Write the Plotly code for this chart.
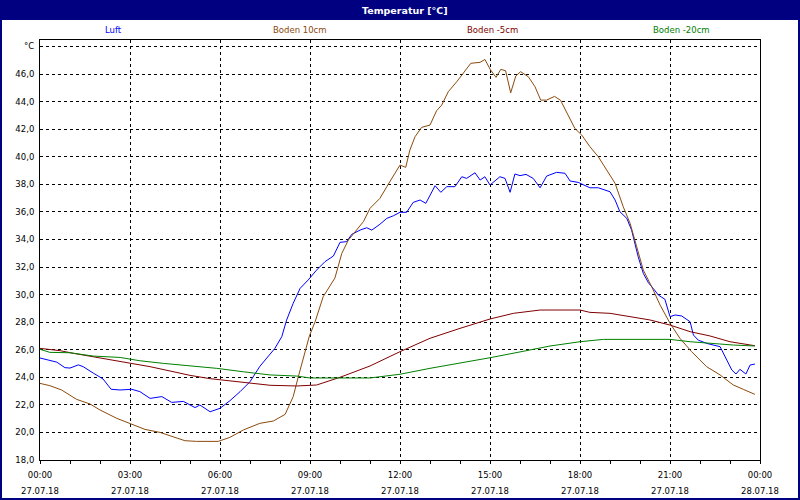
import plotly.graph_objects as go

# Temperature readings on 27.07.18, time in hours after midnight
hours_luft = [0.0, 0.33, 0.56, 0.83, 1.0, 1.28, 1.44, 1.78, 2.1, 2.37, 2.67, 3.06, 3.33, 3.67, 4.06, 4.39,
              4.78, 5.17, 5.33, 5.67, 6.0, 6.33, 6.67, 7.0, 7.33, 7.83, 8.06, 8.22, 8.44, 8.67, 8.94, 9.22,
              9.5, 9.78, 10.0, 10.22, 10.39, 10.67, 10.89, 11.06, 11.33, 11.56, 11.78, 12.0, 12.22, 12.44,
              12.67, 12.86, 13.17, 13.36, 13.56, 13.83, 14.06, 14.22, 14.5, 14.67, 14.83, 15.0, 15.33, 15.5,
              15.67, 15.83, 16.0, 16.2, 16.44, 16.67, 16.89, 17.22, 17.5, 17.67, 17.94, 18.33, 18.61, 19.0,
              19.17, 19.33, 19.56, 19.72, 19.83, 19.94, 20.11, 20.28, 20.44, 20.61, 20.83, 21.0, 21.17,
              21.39, 21.67, 21.78, 21.94, 22.22, 22.67, 22.89, 23.06, 23.2, 23.33, 23.53, 23.67, 23.83]
luft = [25.4, 25.2, 25.1, 24.7, 24.67, 24.9, 24.77, 24.3, 23.88, 23.13, 23.08, 23.13, 22.96, 22.47, 22.6, 22.18,
        22.25, 21.8, 21.99, 21.5, 21.75, 22.3, 22.96, 23.68, 24.8, 26.1, 26.95, 28.15, 29.37, 30.45, 31.06, 31.78,
        32.39, 32.8, 33.79, 33.84, 34.37, 34.68, 34.85, 34.68, 35.1, 35.53, 35.72, 35.97, 35.97, 36.69,
        36.86, 36.62, 37.9, 37.42, 37.83, 37.83, 38.55, 38.43, 38.84, 38.31, 38.55, 37.95, 38.55, 38.43,
        37.42, 38.75, 38.63, 38.72, 38.43, 37.75, 38.6, 38.87, 38.8, 38.24, 38.14, 37.75, 37.75, 37.46,
        36.86, 36.01, 35.53, 34.68, 33.71, 32.74, 31.54, 30.86, 30.45, 29.97, 29.66, 28.4, 28.52,
        28.45, 28.03, 27.07, 26.7, 26.46, 26.22, 25.25, 24.53, 24.24, 24.58, 24.24, 24.89, 24.96]

hours_b10 = [0.0, 0.33, 0.72, 1.22, 1.67, 2.0, 2.56, 3.0, 3.5, 4.0, 4.33, 4.83, 5.22, 5.94, 6.33, 6.78, 7.33,
             7.78, 8.17, 8.44, 8.61, 8.78, 8.98, 9.17, 9.44, 9.83, 10.06, 10.28, 10.56, 10.78, 11.0, 11.33,
             11.56, 11.83, 12.0, 12.19, 12.33, 12.5, 12.72, 13.0, 13.22, 13.39, 13.61, 13.89, 14.11, 14.36,
             14.67, 14.83, 15.02, 15.2, 15.36, 15.52, 15.69, 15.86, 16.02, 16.28, 16.5, 16.69, 16.89, 17.15,
             17.35, 17.61, 17.83, 18.06, 18.33, 18.61, 18.89, 19.17, 19.44, 19.67, 19.89, 20.11, 20.39,
             20.67, 21.0, 21.33, 21.72, 22.22, 22.67, 23.11, 23.44, 23.83]
boden_10 = [23.56, 23.39, 23.08, 22.4, 22.06, 21.63, 21.02, 20.66, 20.22, 20.0, 19.76, 19.4, 19.35, 19.35, 19.64,
            20.18, 20.66, 20.83, 21.31, 22.6, 24.04, 25.49, 27.0, 28.03, 29.85, 31.2, 32.99, 33.96, 34.68,
            35.29, 36.26, 36.98, 37.83, 38.8, 39.4, 39.23, 40.49, 41.45, 42.13, 42.3, 43.34, 43.75, 44.72,
            45.44, 46.05, 46.78, 46.85, 47.06, 46.29, 45.76, 46.34, 46.24, 44.64, 45.86, 46.17, 45.8, 45.08,
            44.11, 44.11, 44.38, 44.1, 43.02, 42.05, 41.57, 40.73, 40.0, 39.04, 38.07, 36.38, 35.17, 33.47,
            31.78, 30.57, 29.24, 27.92, 26.83, 25.86, 24.77, 24.17, 23.44, 23.13, 22.76]

hours_b5 = [0.0, 0.67, 1.11, 1.78, 2.33, 3.0, 3.67, 4.33, 5.0, 5.67, 6.33, 7.0, 7.67, 8.56, 9.22, 10.0, 11.0,
            12.0, 13.0, 14.0, 15.0, 15.78, 16.67, 18.0, 18.33, 19.0, 19.67, 20.33, 21.0, 21.67, 22.33, 23.0,
            23.83]
boden_5 = [26.1, 25.93, 25.74, 25.49, 25.25, 25.01, 24.77, 24.46, 24.14, 23.9, 23.75, 23.59, 23.42, 23.37, 23.44,
           24.0, 24.82, 25.86, 26.83, 27.55, 28.23, 28.64, 28.88, 28.88, 28.71, 28.64, 28.4, 28.16, 27.79,
           27.31, 27.0, 26.58, 26.29]

hours_b20 = [0.0, 0.33, 1.0, 1.78, 2.67, 3.33, 4.11, 5.0, 5.89, 6.78, 7.67, 8.56, 9.0, 11.0, 12.0, 13.0, 14.0,
             15.0, 16.0, 17.0, 18.0, 18.78, 21.0, 21.67, 23.11, 23.83]
boden_20 = [26.03, 25.81, 25.78, 25.54, 25.44, 25.2, 25.01, 24.84, 24.65, 24.4, 24.17, 24.09, 23.95, 23.95, 24.22,
            24.65, 25.01, 25.42, 25.84, 26.27, 26.58, 26.75, 26.75, 26.58, 26.34, 26.27]

# axis ticks
x_tickvals = [0, 3, 6, 9, 12, 15, 18, 21, 24]
x_time_labels = ['00:00', '03:00', '06:00', '09:00', '12:00', '15:00', '18:00', '21:00', '00:00']
x_date_labels = ['27.07.18'] * 8 + ['28.07.18']
y_tickvals = [18, 20, 22, 24, 26, 28, 30, 32, 34, 36, 38, 40, 42, 44, 46, 48]
y_ticktext = ['18,0', '20,0', '22,0', '24,0', '26,0', '28,0', '30,0', '32,0', '34,0', '36,0', '38,0',
              '40,0', '42,0', '44,0', '46,0', '°C']

series = [
    ('Luft', hours_luft, luft, '#0000ff'),
    ('Boden 10cm', hours_b10, boden_10, '#8b4a0c'),
    ('Boden -5cm', hours_b5, boden_5, '#800000'),
    ('Boden -20cm', hours_b20, boden_20, '#008000'),
]
legend_px = [113, 300, 492, 681]

FONT = 'DejaVu Sans'
NAVY = '#000080'


def px_x(px):
    # window pixel -> paper x (plot area spans 40..760)
    return (px - 40) / 720


def px_y(py):
    # window pixel -> paper y (plot area spans 40..460)
    return (460 - py) / 420


fig = go.Figure()
for name, xs, ys, color in series:
    fig.add_trace(go.Scatter(x=xs, y=ys, mode='lines', name=name, line=dict(color=color, width=1),
                             showlegend=False))

# invisible trace for the second (date) label row
fig.add_trace(go.Scatter(x=[0, 24], y=[18, 18], xaxis='x2', mode='lines', line=dict(width=0),
                         hoverinfo='skip', showlegend=False))

grid = dict(showgrid=True, gridcolor='black', gridwidth=1, griddash='3px,3px')

fig.update_layout(
    width=800, height=500,
    margin=dict(l=40, r=40, t=40, b=40, autoexpand=False),
    paper_bgcolor='white', plot_bgcolor='white',
    font=dict(family=FONT, size=8.5, color='black'),
    xaxis=dict(range=[0, 24], tickvals=x_tickvals, ticktext=x_time_labels, ticks='outside', ticklen=3,
               tickcolor='black', minor=dict(dtick=1, ticks='outside', ticklen=3, tickcolor='black', showgrid=False),
               showline=True, linecolor='black', linewidth=1, mirror=True, zeroline=False,
               ticklabelstandoff=4, automargin=False, **grid),
    xaxis2=dict(range=[0, 24], overlaying='x', side='bottom', anchor='y', tickvals=x_tickvals,
                ticktext=x_date_labels, ticks='', showgrid=False, showline=False, zeroline=False,
                ticklabelstandoff=24, automargin=False),
    yaxis=dict(range=[18, 48.47], tickvals=y_tickvals, ticktext=y_ticktext, ticks='', showline=True,
               linecolor='black', linewidth=1, mirror=True, zeroline=False, ticklabelstandoff=3,
               automargin=False, **grid),
)

# title bar and window frame
fig.add_shape(type='rect', xref='paper', yref='paper', x0=px_x(0), x1=px_x(800), y0=px_y(20), y1=px_y(0),
              fillcolor=NAVY, line=dict(width=0), layer='above')
fig.add_shape(type='rect', xref='paper', yref='paper', x0=px_x(1), x1=px_x(799), y0=px_y(499), y1=px_y(1),
              line=dict(color=NAVY, width=2), layer='above')
fig.add_annotation(text='<b>Temperatur [°C]</b>', xref='paper', yref='paper', x=px_x(405), y=px_y(10),
                   xanchor='center', yanchor='middle', showarrow=False,
                   font=dict(family=FONT, size=9.5, color='white'))

for (name, xs, ys, color), px in zip(series, legend_px):
    fig.add_annotation(text=name, xref='paper', yref='paper', x=px_x(px), y=px_y(30), xanchor='center',
                       yanchor='middle', showarrow=False, font=dict(family=FONT, size=8.5, color=color))

# drop the browser's default page margin so the 800x500 figure fills the window
fig.write_html('out.html', config={'displayModeBar': False},
               post_script="document.body.style.margin='0';")
